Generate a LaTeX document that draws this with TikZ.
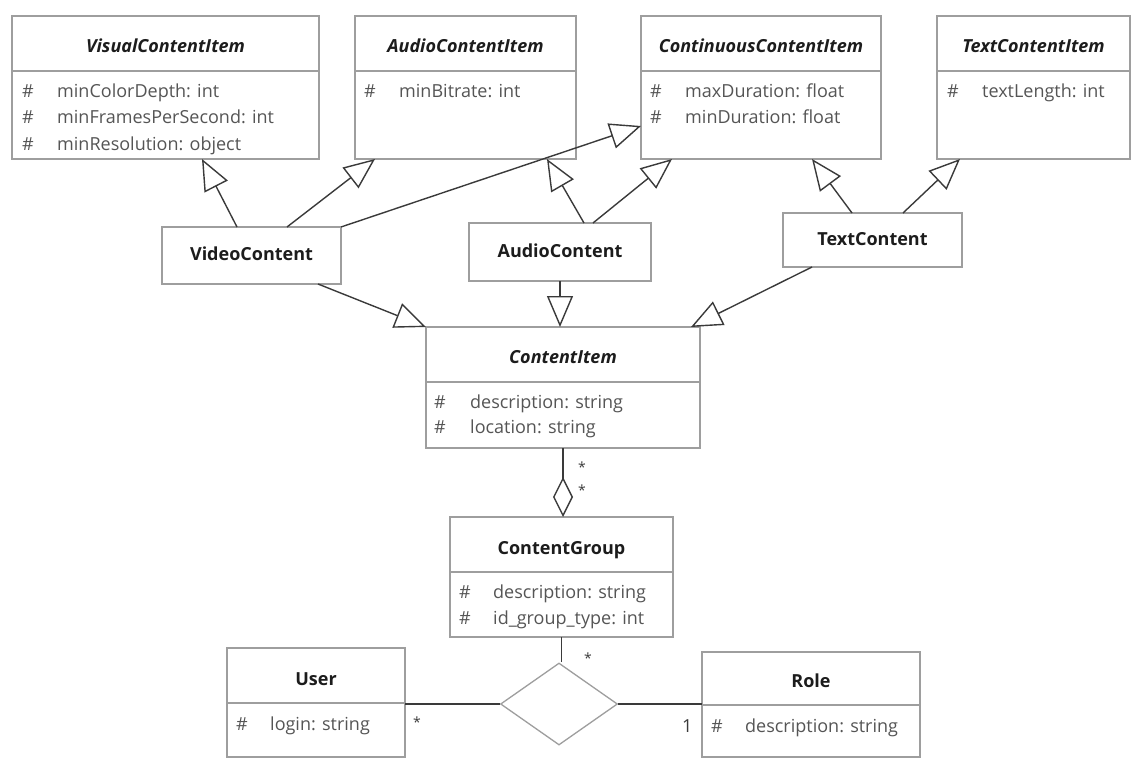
\documentclass[tikz,border=0pt]{standalone}
\usepackage{fontspec}
\setmainfont{Open Sans}
\usetikzlibrary{arrows.meta,shapes.geometric}

\definecolor{boxline}{HTML}{9E9E9E}
\definecolor{wire}{HTML}{3A3A3A}
\definecolor{attrtext}{HTML}{555555}
\definecolor{titletext}{HTML}{1C1C1C}

\tikzset{
  clsbox/.style={draw=boxline, line width=1.3pt, fill=white, inner sep=0pt, outer sep=0pt},
  sepline/.style={draw=boxline, line width=1.3pt},
  classtitle/.style={font=\fontsize{18}{21}\selectfont\bfseries\itshape, text=titletext,
    inner sep=0pt, text height=13pt, text depth=3pt},
  plaintitle/.style={font=\fontsize{18}{21}\selectfont\bfseries, text=titletext,
    inner sep=0pt, text height=13pt, text depth=3pt},
  attr/.style={font=\fontsize{18}{21}\selectfont, text=attrtext, anchor=west,
    inner sep=0pt, text height=13pt, text depth=3pt},
  mult/.style={font=\fontsize{14}{16}\selectfont, text=wire, inner sep=0pt},
  gen/.style={draw=wire, line width=1.4pt,
    -{Triangle[length=31pt, width=26pt, fill=white, line width=1.4pt]}},
  agg/.style={draw=wire, line width=1.4pt,
    -{Diamond[length=40pt, width=20pt, fill=white, line width=1.4pt]}},
  assoc/.style={draw=wire, line width=1.5pt},
}

% class box: name, left, top, right, bottom, compartment separator (pixel units)
\newcommand\classbox[6]{%
  \node[clsbox, minimum width={#4-#2}, minimum height={#5-#3}]
    (#1) at ({(#2+#4)/2},{(#3+#5)/2}) {};
  \draw[sepline] (#1.west |- 0,#6) -- (#1.east |- 0,#6);
}

\begin{document}
\begin{tikzpicture}[x=1pt, y=-1pt]
\useasboundingbox (0,0) rectangle (1132,762);

% ---------- abstract base classes ----------
\classbox{vci}{12}{16}{319}{159}{71}
\node[classtitle] (vcit) at (165.5,48) {VisualContentItem};
\node[attr] (vcih1) at (22,93) {\#};
\node[attr] (vcia1) at (57,93) {minColorDepth: int};
\node[attr] (vcih2) at (22,119) {\#};
\node[attr] (vcia2) at (57,119) {minFramesPerSecond: int};
\node[attr] (vcih3) at (22,146) {\#};
\node[attr] (vcia3) at (57,146) {minResolution: object};

\classbox{aci}{355}{16}{576}{159}{71}
\node[classtitle] (acit) at (465.5,48) {AudioContentItem};
\node[attr] (acih1) at (364,93) {\#};
\node[attr] (acia1) at (399,93) {minBitrate: int};

\classbox{cci}{641}{16}{881}{159}{71}
\node[classtitle] (ccit) at (761,48) {ContinuousContentItem};
\node[attr] (ccih1) at (650,93) {\#};
\node[attr] (ccia1) at (685,93) {maxDuration: float};
\node[attr] (ccih2) at (650,119) {\#};
\node[attr] (ccia2) at (685,119) {minDuration: float};

\classbox{tci}{937}{16}{1130}{159}{71}
\node[classtitle] (tcit) at (1033.5,48) {TextContentItem};
\node[attr] (tcih1) at (947,93) {\#};
\node[attr] (tcia1) at (982,93) {textLength: int};

% ---------- concrete content classes ----------
\node[clsbox, minimum width=179pt, minimum height=57pt] (vid) at (251.5,255.5) {};
\node[plaintitle] (vidt) at (vid.center) {VideoContent};
\node[clsbox, minimum width=182pt, minimum height=58pt] (aud) at (560,252) {};
\node[plaintitle] (audt) at (aud.center) {AudioContent};
\node[clsbox, minimum width=179pt, minimum height=54pt] (txt) at (872.5,240) {};
\node[plaintitle] (txtt) at (txt.center) {TextContent};

% ---------- ContentItem ----------
\classbox{ci}{426}{327}{700}{448}{382}
\node[classtitle] (cit) at (563,358) {ContentItem};
\node[attr] (cih1) at (434,403) {\#};
\node[attr] (cia1) at (470,403) {description: string};
\node[attr] (cih2) at (434,428) {\#};
\node[attr] (cia2) at (470,428) {location: string};

% ---------- ContentGroup ----------
\classbox{cg}{450}{517}{673}{637}{572}
\node[plaintitle] (cgt) at (561.5,549) {ContentGroup};
\node[attr] (cgh1) at (459,593) {\#};
\node[attr] (cga1) at (493,593) {description: string};
\node[attr] (cgh2) at (459,619) {\#};
\node[attr] (cga2) at (493,619) {id\_group\_type: int};

% ---------- User / Role ----------
\classbox{user}{227}{648}{405}{757}{703}
\node[plaintitle] (usert) at (316,680) {User};
\node[attr] (userh1) at (236,725) {\#};
\node[attr] (usera1) at (270,725) {login: string};

\classbox{role}{702}{652}{920}{757}{705}
\node[plaintitle] (rolet) at (811,682) {Role};
\node[attr] (roleh1) at (711,727) {\#};
\node[attr] (rolea1) at (745,727) {description: string};

% ternary association
\node[diamond, draw=boxline, line width=1.3pt, fill=white, inner sep=0pt,
      minimum width=117pt, minimum height=82pt, aspect=1.43] (tern) at (559,704) {};

% ---------- generalisations ----------
\draw[gen] ([xshift=-14.5pt]vid.north) -- ([xshift=36.5pt]vci.south);
\draw[gen] ([xshift=35.5pt]vid.north) -- ([xshift=-90.5pt]aci.south);
\draw[gen] (vid.north east) -- ([yshift=-38.5pt]cci.west);
\draw[gen] ([xshift=24pt]aud.north) -- ([xshift=81.5pt]aci.south);
\draw[gen] ([xshift=33pt]aud.north) -- ([xshift=-89pt]cci.south);
\draw[gen] ([xshift=-20.5pt]txt.north) -- ([xshift=51pt]cci.south);
\draw[gen] ([xshift=30.5pt]txt.north) -- ([xshift=-73.5pt]tci.south);
\draw[gen] ([xshift=66.5pt]vid.south) -- (ci.north west);
\draw[gen] (aud.south) -- (aud.south |- ci.north);
\draw[gen] ([xshift=-60.5pt]txt.south) -- ([xshift=128pt]ci.north);

% ---------- aggregation ----------
\draw[agg] (ci.south) -- (ci.south |- cg.north);
\node[mult] (m1) at (582,467) {*};
\node[mult] (m2) at (582,490) {*};

% ---------- ternary links ----------
\draw[assoc] (cg.south) -- (cg.south |- tern.north);
\draw[assoc] (tern.west) -- (tern.west -| user.east);
\draw[assoc] (tern.east) -- (tern.east -| role.west);
\node[mult] (m3) at (588,658) {*};
\node[mult] (m4) at (417,722) {*};
\node[attr, text=wire] (m5) at (682,727) {1};
\end{tikzpicture}
\end{document}
